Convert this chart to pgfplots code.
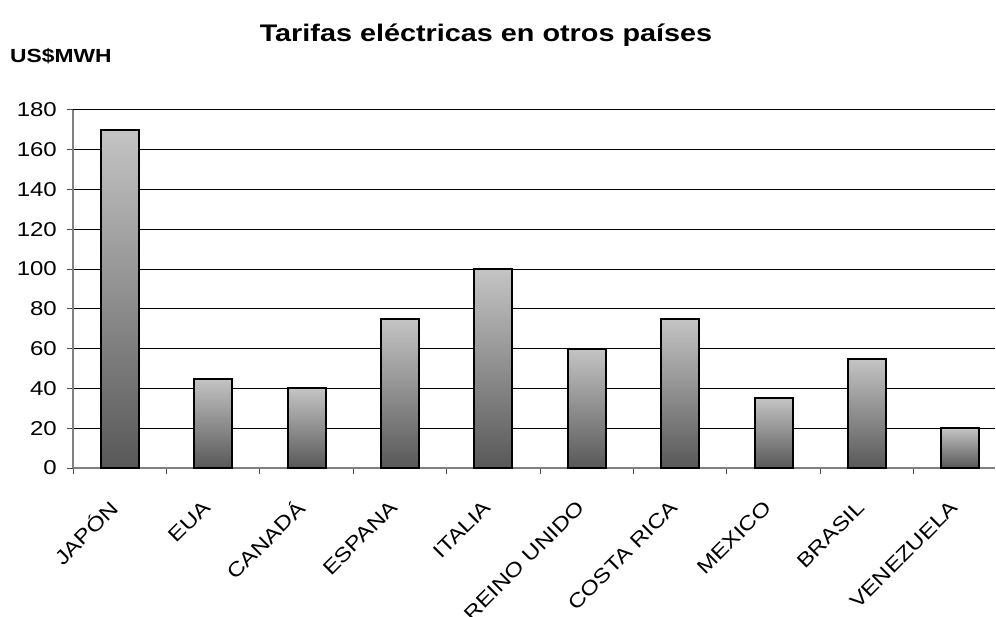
\documentclass[border=0pt]{standalone}
\usepackage{pgfplots}
\pgfplotsset{compat=1.18}
\usepackage{fontspec}
\setmainfont[FakeStretch=1.2]{Liberation Sans}
\definecolor{bartop}{HTML}{C4C4C4}
\definecolor{barbot}{HTML}{585858}
\definecolor{axgray}{HTML}{808080}
\pgfplotsset{mybar/.style={ybar, bar width=38pt, bar shift=0pt, draw=black, line width=2pt, top color=bartop, bottom color=barbot}}
\begin{document}
\begin{tikzpicture}[x=1pt,y=1pt]
\path[use as bounding box] (0,0) rectangle (996,616);
\node[anchor=base,inner sep=0pt,font=\fontsize{24}{28}\selectfont\bfseries] at (486,574) {Tarifas eléctricas en otros países};
\node[anchor=base west,inner sep=0pt,font=\fontsize{19}{23}\selectfont\bfseries] at (10,553) {US\$MWH};
\begin{axis}[
  at={(73pt,148pt)}, anchor=south west,
  scale only axis, width=922pt, height=358pt,
  xmin=-0.5, xmax=9.37, ymin=0, ymax=180,
  axis x line*=bottom, axis y line*=left,
  axis line style={axgray, line width=1.2pt},
  ytick={0,20,...,180},
  ymajorgrids, grid style={black, line width=1pt},
  tick align=outside, major tick length=6pt,
  tick style={black!70, line width=1pt},
  xtick={-0.5,0.5,...,8.5}, xticklabels={},
  extra x ticks={0,1,2,3,4,5,6,7,8,9},
  extra x tick labels={JAPÓN,EUA,CANADÁ,ESPANA,ITALIA,REINO UNIDO,COSTA RICA,MEXICO,BRASIL,VENEZUELA},
  extra x tick style={major tick length=0pt, grid=none,
    xticklabel style={xshift=-6pt, yshift=-36pt, rotate=45, anchor=east, inner sep=0pt}},
  /pgf/number format/assume math mode=true,
  ticklabel style={font=\fontsize{20}{24}\selectfont},
  yticklabel style={inner sep=0pt, xshift=-10pt},
]
\addplot[mybar] coordinates {(0,170)};
\addplot[mybar] coordinates {(1,45)};
\addplot[mybar] coordinates {(2,40)};
\addplot[mybar] coordinates {(3,75)};
\addplot[mybar] coordinates {(4,100)};
\addplot[mybar] coordinates {(5,60)};
\addplot[mybar] coordinates {(6,75)};
\addplot[mybar] coordinates {(7,35)};
\addplot[mybar] coordinates {(8,55)};
\addplot[mybar] coordinates {(9,20)};
\end{axis}
\end{tikzpicture}
\end{document}
